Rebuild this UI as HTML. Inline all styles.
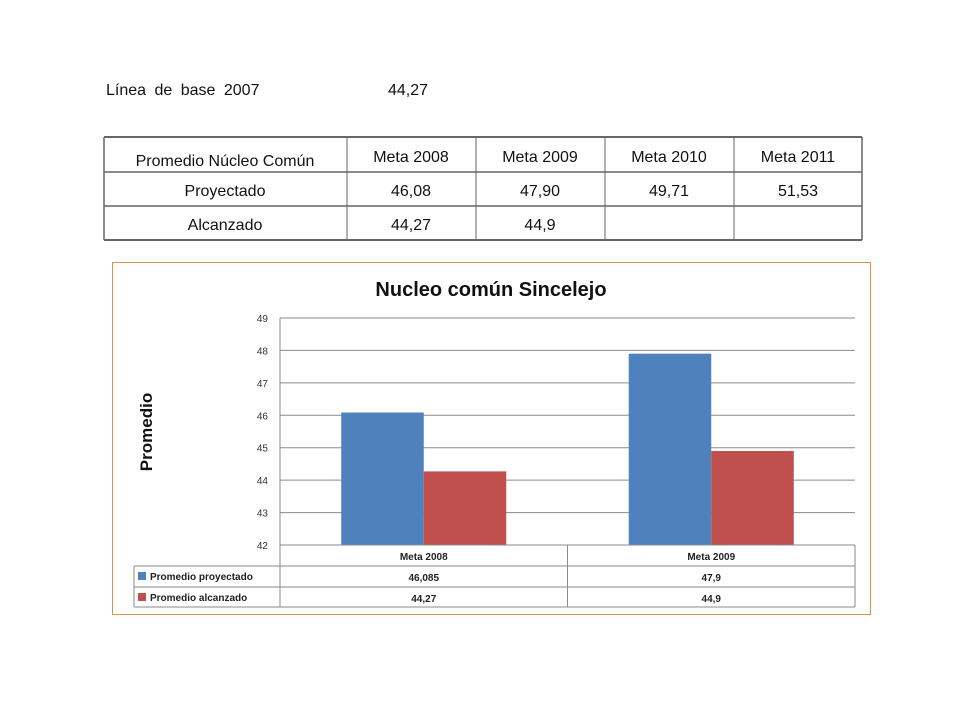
<!DOCTYPE html>
<html><head><meta charset="utf-8"><style>
body{margin:0;width:960px;height:720px;background:#fff;font-family:"Liberation Sans",sans-serif;overflow:hidden;position:relative}
.t{position:absolute;font-size:16px;color:#111}
</style></head><body>
<div class="t" style="left:106px;top:82px;word-spacing:4px">Línea de base 2007</div>
<div class="t" style="left:388px;top:82px">44,27</div>
<svg width="960" height="720" style="position:absolute;left:0;top:0" font-family="Liberation Sans, sans-serif">
<g font-size="16" fill="#111" text-anchor="middle">
<line x1="104" y1="137" x2="862" y2="137" stroke="#666" stroke-width="2"/>
<line x1="104" y1="172" x2="862" y2="172" stroke="#666" stroke-width="1.5"/>
<line x1="104" y1="206" x2="862" y2="206" stroke="#666" stroke-width="1.5"/>
<line x1="104" y1="240" x2="862" y2="240" stroke="#666" stroke-width="2"/>
<line x1="104" y1="137" x2="104" y2="240" stroke="#666" stroke-width="1.5"/>
<line x1="347" y1="137" x2="347" y2="240" stroke="#666"/>
<line x1="476" y1="137" x2="476" y2="240" stroke="#666"/>
<line x1="605" y1="137" x2="605" y2="240" stroke="#666"/>
<line x1="734" y1="137" x2="734" y2="240" stroke="#666"/>
<line x1="862" y1="137" x2="862" y2="240" stroke="#666" stroke-width="1.5"/>
<text x="225" y="166">Promedio  Núcleo Común</text>
<text x="411" y="162">Meta  2008</text><text x="540" y="162">Meta  2009</text><text x="669" y="162">Meta  2010</text><text x="798" y="162">Meta  2011</text>
<text x="225" y="196">Proyectado</text><text x="411" y="196">46,08</text><text x="540" y="196">47,90</text><text x="669" y="196">49,71</text><text x="798" y="196">51,53</text>
<text x="225" y="230">Alcanzado</text><text x="411" y="230">44,27</text><text x="540" y="230">44,9</text>
</g>
<rect x="112.5" y="262.5" width="758" height="352" fill="#fff" stroke="#d9904a"/>
<text x="491" y="296" text-anchor="middle" font-size="20" font-weight="bold" fill="#111">Nucleo común Sincelejo</text>
<text transform="translate(152,432) rotate(-90)" text-anchor="middle" font-size="17" font-weight="bold" fill="#111">Promedio</text>
<g id="chart"></g>
</svg>
<script>
const categories=["Meta  2008","Meta  2009"];
const projected=[46.085,47.9];
const achieved=[44.27,44.9];
const projectedLabels=["46,085","47,9"];
const achievedLabels=["44,27","44,9"];
const ticks=[42,43,44,45,46,47,48,49];
const NS="http://www.w3.org/2000/svg";
const g=document.getElementById('chart');
const X0=280,X1=855,Y0=545,Y1=318,ymin=42,ymax=49;
const y=v=>Y0-(v-ymin)/(ymax-ymin)*(Y0-Y1);
const bw=(X1-X0)/categories.length;
function el(t,a,txt){const e=document.createElementNS(NS,t);for(const k in a)e.setAttribute(k,a[k]);if(txt!=null)e.textContent=txt;g.appendChild(e);return e;}
ticks.forEach(t=>{
 const l=el('line',{x1:X0,x2:X1,y1:y(t),y2:y(t),stroke:'#8a8a8a','stroke-width':1});
 
 
 const tx=el('text',{x:268,y:y(t)+4,'text-anchor':'end','font-size':10,fill:'#333'},String(t));
 
 
});
el('line',{x1:X0,x2:X0,y1:Y1,y2:Y0,stroke:'#8a8a8a'});
const barW=bw*0.287;
categories.forEach((c,i)=>{
 const cx=X0+bw*(i+0.5);
 const b1=el('rect',{x:cx-barW,y:y(projected[i]),width:barW,height:Y0-y(projected[i]),fill:'#4f81bd'});
 
 
 const b2=el('rect',{x:cx,y:y(achieved[i]),width:barW,height:Y0-y(achieved[i]),fill:'#c0504d'});
 
 
 const t1=el('text',{x:cx,y:560,'text-anchor':'middle','font-size':10,'font-weight':'bold',fill:'#222'},c);
 
 
 const t2=el('text',{x:cx,y:581,'text-anchor':'middle','font-size':10,'font-weight':'bold',fill:'#222'},projectedLabels[i]);
 
 
 const t3=el('text',{x:cx,y:602,'text-anchor':'middle','font-size':10,'font-weight':'bold',fill:'#222'},achievedLabels[i]);
 
 
});
// data table grid
const s='#8a8a8a';
[[X0,545,X1,545],[134,566,X1,566],[134,587,X1,587],[134,607,X1,607],[134,566,134,607],[X0,545,X0,607],[X0+bw,545,X0+bw,607],[X1,545,X1,607]].forEach(a=>el('line',{x1:a[0],y1:a[1],x2:a[2],y2:a[3],stroke:s}));
const k1=el('rect',{x:138,y:572,width:8,height:8,fill:'#4f81bd'});


const k2=el('rect',{x:138,y:593,width:8,height:8,fill:'#c0504d'});


const l1=el('text',{x:150,y:580,'font-size':10,'font-weight':'bold',fill:'#222'},'Promedio  proyectado');


const l2=el('text',{x:150,y:601,'font-size':10,'font-weight':'bold',fill:'#222'},'Promedio alcanzado');


</script>
</body></html>
